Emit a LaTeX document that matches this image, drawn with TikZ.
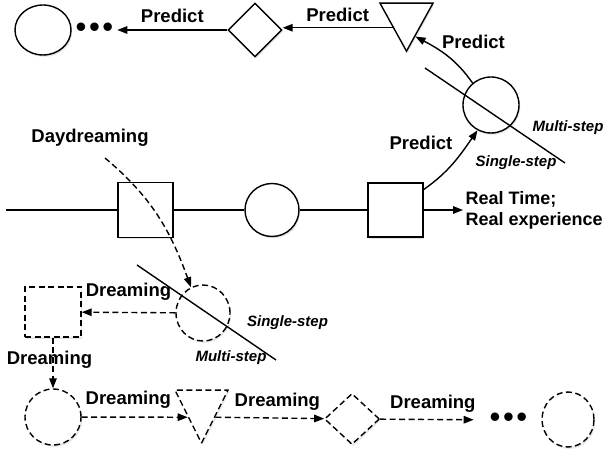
\documentclass[tikz,border=0pt]{standalone}
\usepackage{fontspec}
\setsansfont{Liberation Sans}
\usetikzlibrary{shapes.geometric, arrows.meta, shadows, calc}

\begin{document}
\begin{tikzpicture}[x=1pt,y=1pt,>={Triangle[length=10pt,width=7.5pt]},line width=1.4pt,
    font=\sffamily\bfseries\fontsize{18.5}{21}\selectfont,
    state/.style={draw,fill=white,inner sep=0pt,
      drop shadow={shadow xshift=1.2pt,shadow yshift=-1.8pt,opacity=0.2}},
    dashes/.style={dash pattern=on 6pt off 3.5pt},
    dreamy/.style={state,dashes},
    ball/.style={ellipse,minimum width=#1},
    box/.style={rectangle,minimum width=#1},
    gem/.style={diamond,minimum width=#1},
    cone/.style={isosceles triangle,shape border rotate=-90,
      isosceles triangle stretches,minimum width=#1,anchor=apex},
    dots/.style={font=\sffamily\fontsize{31}{31}\selectfont},
    steptag/.style={anchor=base,font=\sffamily\bfseries\itshape\fontsize{15}{18}\selectfont}]
  \useasboundingbox (0,0) rectangle (605,455);

  % predicted future (top row)
  \node[state,ball=56,minimum height=50] (p4) at (43,425) {};
  \node[dots] (pdots) at (94.5,425) {•\kern2.5pt•\kern2.5pt•};
  \node[state,gem=54,minimum height=54] (p3) at (255,425) {};
  \node[state,cone=53,minimum height=48] (p2) at (406.5,402) {};
  \node[state,ball=56,minimum height=56] (p1) at (491,350) {};

  % real experience (middle row)
  \coordinate (rstart) at (6,245);
  \node[state,box=55,minimum height=55] (r1) at (145.5,245) {};
  \node[state,ball=54,minimum height=53] (r2) at (272,245) {};
  \node[state,box=55,minimum height=54] (r3) at (395.5,245) {};
  \node[anchor=north west,align=left,inner sep=2pt,font=\sffamily\bfseries\fontsize{18}{21}\selectfont]
    (real) at (463,266.5) {Real Time;\\Real experience};

  % dreaming (bottom rows)
  \node[dreamy,ball=54,minimum height=56] (d1) at (203,142) {};
  \node[dreamy,box=56,minimum height=50] (d2) at (53,143) {};
  \node[dreamy,ball=56,minimum height=56] (d3) at (53,38) {};
  \node[dreamy,cone=53,minimum height=53] (d4) at (201.5,10) {};
  \node[dreamy,gem=55,minimum height=51] (d5) at (352,36) {};
  \node[dots] (ddots) at (508.5,35) {•\kern2.5pt•\kern2.5pt•};
  \node[dreamy,ball=52,minimum height=55] (d6) at (568,35.5) {};

  % texts
  \node[anchor=base] (daydream) at (90,312) {Daydreaming};
  \node[anchor=base] (pred3) at (473.5,406) {Predict};
  \node[anchor=base] (pred4) at (421,305) {Predict};
  \node[steptag] (multi1) at (568,323) {Multi-step};
  \node[steptag] (single1) at (516,288) {Single-step};
  \node[steptag] (single2) at (287.5,128) {Single-step};
  \node[steptag] (multi2) at (231,93) {Multi-step};

  % connectors
  \draw (rstart) -- (r1);
  \draw (r1) -- (r2);
  \draw (r2) -- (r3);
  \draw[->] (r3) -- (r3 -| real.west);
  \draw[->] (r3.36) to[out=35,in=-125] (p1.-118);
  \draw[->] (p1.130) to[out=125,in=-28] ($(p2.left side)!0.35!(p2.apex)$);
  \draw[->] (p2.right side) -- (p2.right side -| p3.east) node[midway,anchor=base,yshift=6pt] {Predict};
  \draw[->] (p3) -- (pdots) node[midway,anchor=base,yshift=7pt] {Predict};

  \coordinate (dstart) at (105,297);
  \draw[->,dashes] (dstart) to[out=-40,in=110] (d1.115);
  \draw[->,dashes] (d1) -- (d2) node[midway,anchor=base,yshift=16pt] {Dreaming};
  \draw[->,dashes] (d2) -- (d3) node[pos=0.52,anchor=base,xshift=-3.5pt] {Dreaming};
  \draw[->,dashes] (d3) -- (d4.right side) node[pos=0.44,anchor=base,yshift=13pt] {Dreaming};
  \draw[->,dashes] (d4.left side) -- (d5) node[pos=0.57,anchor=base,yshift=12pt] {Dreaming};
  \draw[->,dashes,shorten >=12pt] (d5) -- (ddots) node[midway,anchor=base,yshift=11pt] {Dreaming};

  % single-step / multi-step cuts
  \coordinate (cut1a) at (425,387);
  \coordinate (cut1b) at (565,292);
  \coordinate (cut2a) at (137,190);
  \coordinate (cut2b) at (276,95);
  \draw (cut1a) -- (cut1b);
  \draw (cut2a) -- (cut2b);
\end{tikzpicture}
\end{document}
